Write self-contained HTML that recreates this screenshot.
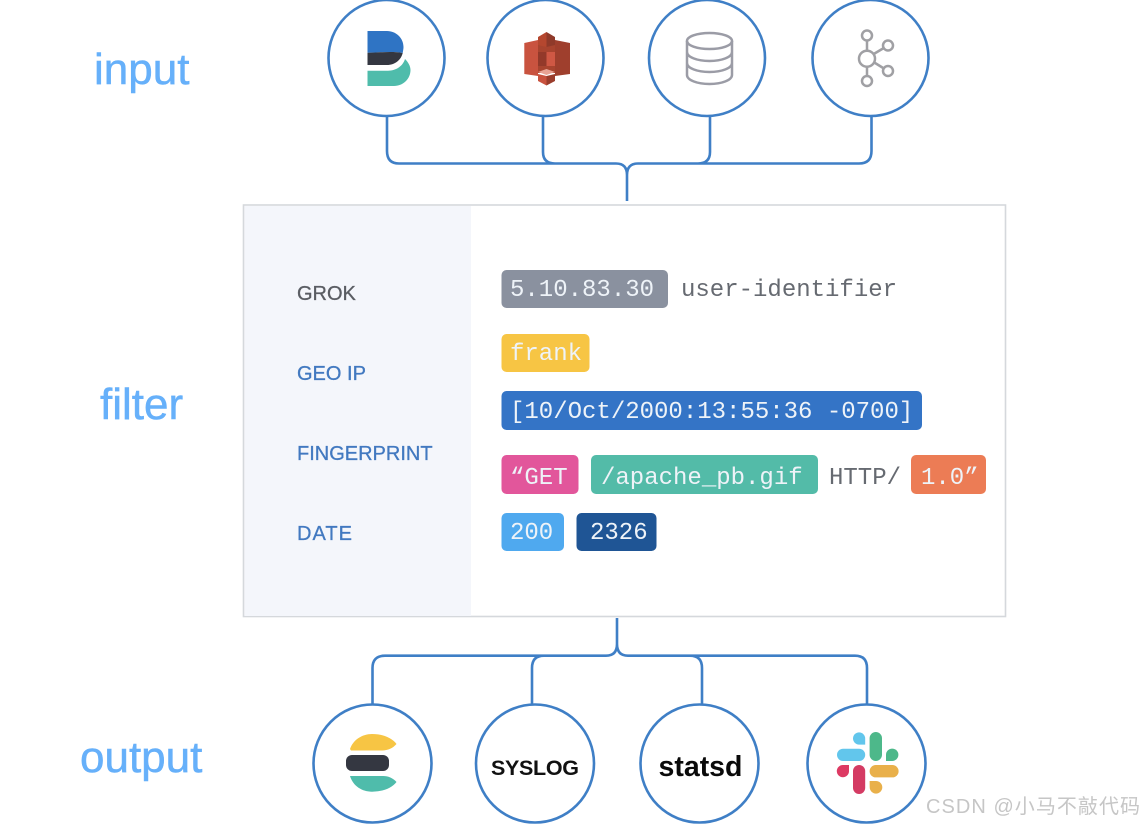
<!DOCTYPE html>
<html><head><meta charset="utf-8"><style>
html,body{margin:0;padding:0;background:#fff;width:1143px;height:826px;overflow:hidden}
svg{display:block;filter:blur(0.35px)}
.m{font-family:"Liberation Mono","DejaVu Sans Mono",monospace;font-size:24px;fill:#eef3f8}
.d{fill:#666a71}
.l{font-family:"Liberation Sans",sans-serif;font-size:20px;fill:#4279c0;stroke:#4279c0;stroke-width:.3}
.h{font-family:"Liberation Sans",sans-serif;font-size:44px;fill:#66b0fa;stroke:#66b0fa;stroke-width:.5}
.c{fill:#fff;stroke:#3f7fc6;stroke-width:2.6}
.w{fill:none;stroke:#3f7fc6;stroke-width:2.6}
</style></head><body>
<svg width="1143" height="826" viewBox="0 0 1143 826" xmlns="http://www.w3.org/2000/svg">
<rect width="1143" height="826" fill="#fff"/>
<path class="w" d="M387,116V151Q387,163.500 399,163.500H616Q627,163.500 627,175V201M871.500,116V151Q871.500,163.500 859,163.500H638Q627,163.500 627,175M543,116V152Q543,163.500 555,163.500M710,116V152Q710,163.500 698,163.500"/>
<path class="w" d="M617,618V644Q617,655.700 606,655.700H385Q372.500,655.700 372.500,668V705M617,644Q617,655.700 628,655.700H855Q867,655.700 867,668V705M532,705V668Q532,655.700 544,655.700M702,705V668Q702,655.700 690,655.700"/>
<circle class="c" cx="386.500" cy="58" r="58"/><circle class="c" cx="545.500" cy="58" r="58"/><circle class="c" cx="707" cy="58" r="58"/><circle class="c" cx="870.500" cy="58" r="58"/>
<circle class="c" cx="372.500" cy="763.500" r="59"/><circle class="c" cx="535" cy="763.500" r="59"/><circle class="c" cx="699.500" cy="763.500" r="59"/><circle class="c" cx="866.500" cy="763.500" r="59"/>
<path fill="#2f74c4" d="M367.500,31H387C396,31 403.500,38 403.500,47C403.500,49 403,51 402.700,53C392,51 380,52.700 367.500,52.700Z"/>
<path fill="#343741" d="M367.500,52.700C380,52.700 392,51 402.700,53C401,60 395,65 387,65H367.500Z"/>
<path fill="#4fbcab" d="M367.500,70.700H388C396,70.700 403,66 405,59C408,62 410.500,66 410.500,70C410.500,79 403,86 394,86H367.500Z"/>
<g>
<polygon fill="#c9533f" points="524.300,43 538,40 538,76 524.300,74"/>
<polygon fill="#9f3f2d" points="555,40 570,43 570,74 555,76"/>
<rect x="538" y="44" width="17" height="29" fill="#a8442f"/>
<polygon fill="#b5472f" points="538,37 546.500,32 546.500,47 538,45"/>
<polygon fill="#8f3a2a" points="546.500,32 555,37 555,45 546.500,47"/>
<rect x="538" y="52" width="8.500" height="14" fill="#93392a"/>
<rect x="546.500" y="52" width="8.500" height="14" fill="#cf5844"/>
<polygon fill="#c9533f" points="538,74 546.500,76 546.500,85.500 538,81"/>
<polygon fill="#9a3d2c" points="546.500,76 555,74 555,81 546.500,85.500"/>
<polygon fill="#e8a394" points="538,72 546.500,69 555,72 546.500,75"/>
</g>
<g fill="none" stroke="#9b9ca6" stroke-width="2.500">
<ellipse cx="709.500" cy="41" rx="22.500" ry="8"/>
<path d="M687,41V75C687,80 697,84 709.500,84S732,80 732,75V41M687,52C687,57 697,61 709.500,61S732,57 732,52M687,63C687,68 697,72 709.500,72S732,68 732,63"/>
</g>
<g fill="#fff" stroke="#a0a0a4" stroke-width="2.500">
<path d="M867,40V81M867,58L888,45.500M867,58L888,71"/>
<circle cx="867" cy="58.700" r="8"/><circle cx="867" cy="35.500" r="5"/><circle cx="888" cy="45.500" r="5"/><circle cx="888" cy="71" r="5"/><circle cx="867" cy="81" r="5"/>
</g>
<path fill="#f7c544" d="M350,749C353,740 362,734 372,734C383,734 392,738 396.500,744C393,748 388,750.500 382,750.500H351Z"/>
<rect x="346" y="755" width="43" height="16" rx="6" fill="#343741"/>
<path fill="#4fbcab" d="M350,776H382C388,775.700 393,778 396.500,782C392,788 383,791.700 372,791.700C362,791.700 353,786 350,776Z"/>
<g>
<path fill="#62c6ec" d="M865.200,744.600H859A6.100,6.100 0 1 1 865.200,738.500Z"/><rect x="837" y="748.700" width="28.200" height="12.300" rx="6.100" fill="#62c6ec"/>
<path fill="#4db88a" d="M886,761V754.800A6.200,6.200 0 1 1 892.200,761Z"/><rect x="869.600" y="732" width="12.400" height="29" rx="6.200" fill="#4db88a"/>
<path fill="#dd3a63" d="M849,765V771.200A6.100,6.100 0 1 1 843,765Z"/><rect x="853" y="765" width="12.200" height="29" rx="6.100" fill="#d43b63"/>
<path fill="#e9b04a" d="M869.600,781H876A6.300,6.300 0 1 1 869.700,787.300Z"/><rect x="869.600" y="765" width="29" height="12.400" rx="6.200" fill="#e9b04a"/>
</g>
<text x="491" y="775" font-family="Liberation Sans,sans-serif" font-size="21.500" font-weight="700" fill="#111" textLength="88">SYSLOG</text>
<text x="658.500" y="776" font-family="Liberation Sans,sans-serif" font-size="28.500" font-weight="700" fill="#0a0a0a">statsd</text>
<text class="h" x="94" y="84">input</text><text class="h" x="100" y="419">filter</text><text class="h" x="80" y="772">output</text>
<rect x="243.500" y="205" width="762" height="411.500" fill="#fff" stroke="#d5d8dc" stroke-width="1.600"/>
<rect x="244.500" y="206" width="226.500" height="410" fill="#f4f6fb"/>
<text class="l" x="297" y="300" style="fill:#5a5d63;stroke:#5a5d63">GROK</text><text class="l" x="297" y="380">GEO IP</text><text class="l" x="297" y="460">FINGERPRINT</text><text class="l" x="297" y="540" textLength="55">DATE</text>
<rect x="501.500" y="270" width="166.500" height="38" rx="5" fill="#8a919f"/>
<rect x="501.500" y="334" width="88" height="38" rx="5" fill="#f7c544"/>
<rect x="501.500" y="391" width="420.500" height="39" rx="5" fill="#3474c6"/>
<rect x="501.500" y="455" width="77" height="39" rx="5" fill="#e2569b"/>
<rect x="591" y="455" width="227" height="39" rx="5" fill="#53bba8"/>
<rect x="911" y="455" width="75" height="39" rx="5" fill="#ec7c55"/>
<rect x="501.500" y="513" width="62.500" height="38" rx="5" fill="#4fa9ef"/>
<rect x="576.500" y="513" width="80" height="38" rx="5" fill="#1f5595"/>
<text class="m" x="510" y="296">5.10.83.30</text>
<text class="m d" x="681" y="296">user-identifier</text>
<text class="m" x="510" y="360">frank</text>
<text class="m" x="510" y="418">[10/Oct/2000:13:55:36 -0700]</text>
<text class="m" x="510" y="484">“GET</text>
<text class="m" x="601" y="484">/apache_pb.gif</text>
<text class="m d" x="829" y="484">HTTP/</text>
<text class="m" x="921" y="484">1.0”</text>
<text class="m" x="510" y="539">200</text>
<text class="m" x="590" y="539">2326</text>
<text x="926" y="813" font-family="Liberation Sans,'Noto Sans CJK SC',sans-serif" font-size="20" fill="#c6c6c6" textLength="214">CSDN @小马不敲代码</text>
</svg>
</body></html>
